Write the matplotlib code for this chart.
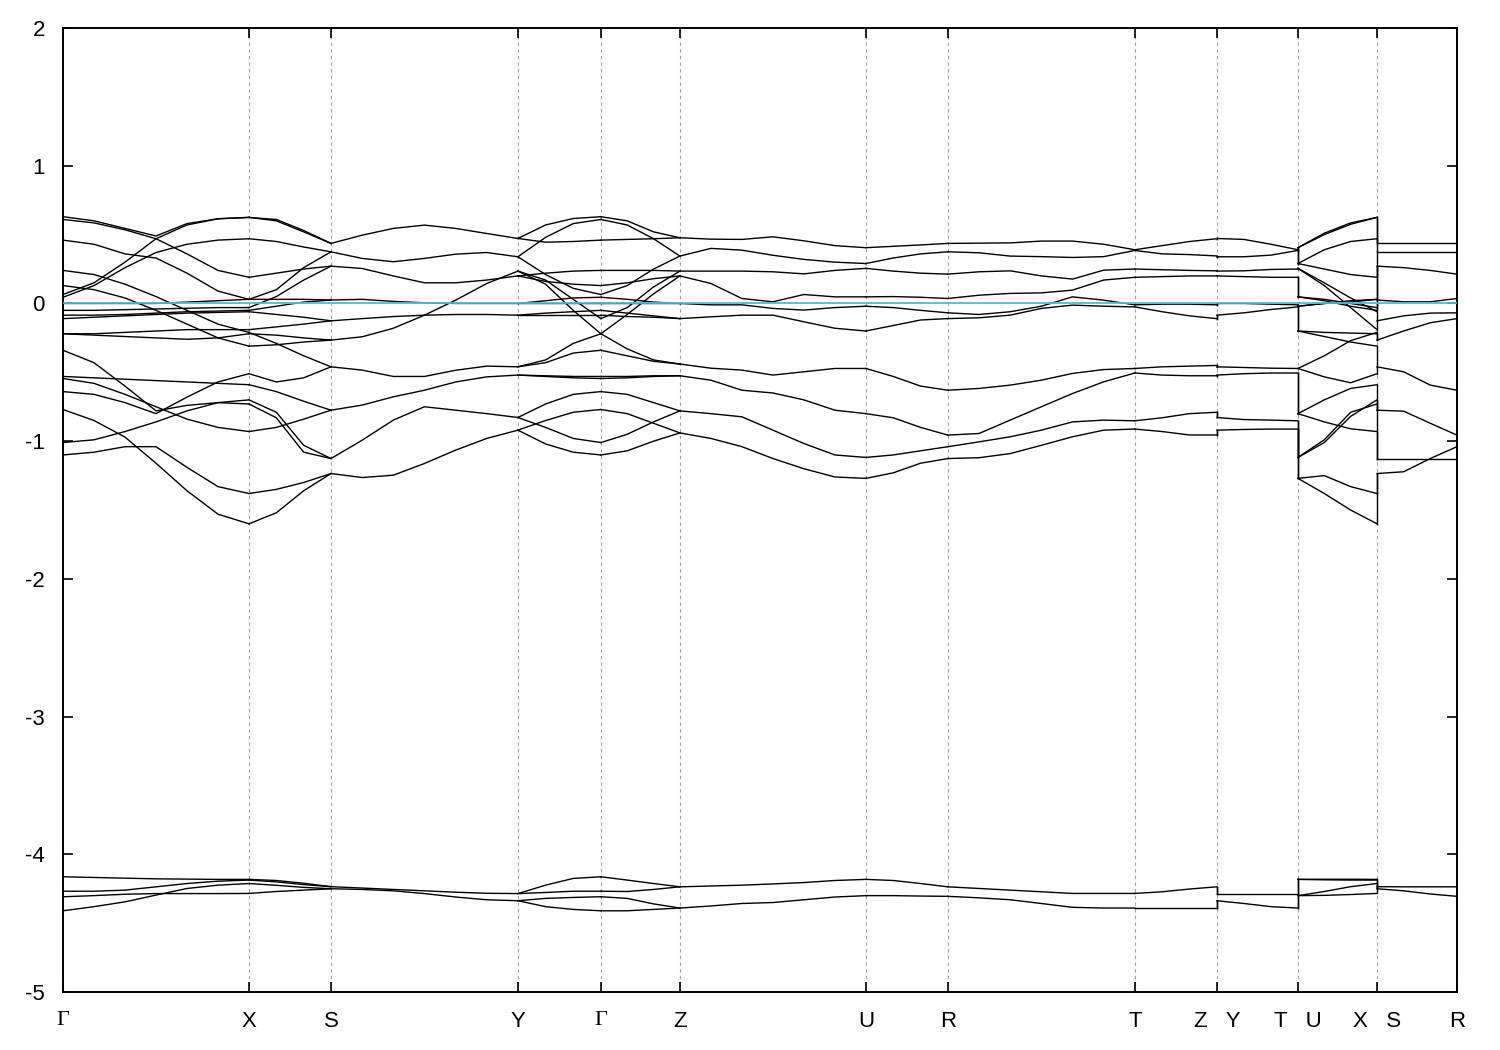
import matplotlib
matplotlib.use("Agg")
import matplotlib.pyplot as plt
import numpy as np

plt.rcParams['font.family'] = ['Liberation Sans', 'DejaVu Sans']
plt.rcParams['axes.unicode_minus'] = False

# high-symmetry points along the k-path (path length, arbitrary units)
labels = ["Γ", "X", "S", "Y", "Γ", "Z", "U", "R", "T", "Z   Y", "T   U", "X   S", "R"]
k_nodes = [0.0, 1.0, 1.441, 2.446, 2.892, 3.317, 4.317, 4.758, 5.763, 6.204, 6.640, 7.065, 7.495]
jumps = [9, 10, 11]  # discontinuities Z|Y, T|U, X|S

# band energies (eV), one row per band, columns evenly spaced in the segment
GX = [
    [0.63, 0.60, 0.545, 0.49, 0.58, 0.615, 0.625],
    [0.61, 0.585, 0.535, 0.47, 0.36, 0.24, 0.19],
    [0.46, 0.43, 0.36, 0.33, 0.22, 0.09, 0.03],
    [0.065, 0.15, 0.30, 0.47, 0.57, 0.615, 0.625],
    [0.045, 0.13, 0.26, 0.37, 0.43, 0.46, 0.47],
    [0.24, 0.21, 0.14, 0.05, -0.05, -0.15, -0.21],
    [0.13, 0.10, 0.04, -0.05, -0.15, -0.25, -0.31],
    [0.0, 0.0, 0.0, 0.0, 0.01, 0.02, 0.03],
    [-0.05, -0.05, -0.045, -0.04, -0.035, -0.03, -0.03],
    [-0.085, -0.085, -0.08, -0.07, -0.06, -0.055, -0.05],
    [-0.11, -0.10, -0.09, -0.08, -0.07, -0.065, -0.06],
    [-0.22, -0.22, -0.21, -0.20, -0.19, -0.19, -0.19],
    [-0.22, -0.23, -0.24, -0.25, -0.26, -0.25, -0.22],
    [-0.34, -0.43, -0.60, -0.78, -0.74, -0.72, -0.73],
    [-0.53, -0.54, -0.55, -0.56, -0.57, -0.58, -0.59],
    [-0.545, -0.58, -0.66, -0.75, -0.84, -0.90, -0.93],
    [-0.64, -0.66, -0.72, -0.80, -0.68, -0.57, -0.51],
    [-1.10, -1.08, -1.04, -1.04, -1.19, -1.33, -1.38],
    [-1.01, -0.99, -0.93, -0.86, -0.78, -0.72, -0.70],
    [-0.77, -0.85, -0.97, -1.16, -1.36, -1.53, -1.60],
    [-4.163, -4.168, -4.173, -4.178, -4.180, -4.182, -4.182],
    [-4.268, -4.268, -4.260, -4.236, -4.212, -4.195, -4.187],
    [-4.308, -4.300, -4.290, -4.285, -4.285, -4.285, -4.284],
    [-4.410, -4.380, -4.345, -4.296, -4.248, -4.224, -4.212],
]
XS = [
    [0.625, 0.60, 0.52, 0.436],
    [0.625, 0.61, 0.53, 0.436],
    [0.47, 0.45, 0.41, 0.375],
    [0.03, 0.10, 0.26, 0.375],
    [0.19, 0.22, 0.25, 0.271],
    [-0.03, 0.05, 0.17, 0.271],
    [0.03, 0.03, 0.03, 0.025],
    [-0.05, -0.02, 0.01, 0.025],
    [-0.06, -0.08, -0.10, -0.126],
    [-0.19, -0.17, -0.15, -0.126],
    [-0.21, -0.29, -0.38, -0.46],
    [-0.22, -0.23, -0.25, -0.266],
    [-0.31, -0.30, -0.28, -0.266],
    [-0.51, -0.57, -0.54, -0.46],
    [-0.59, -0.64, -0.71, -0.775],
    [-0.93, -0.90, -0.84, -0.775],
    [-0.70, -0.79, -1.03, -1.126],
    [-0.73, -0.83, -1.08, -1.126],
    [-1.38, -1.35, -1.30, -1.235],
    [-1.60, -1.52, -1.36, -1.235],
    [-4.182, -4.19, -4.21, -4.235],
    [-4.187, -4.20, -4.22, -4.235],
    [-4.284, -4.27, -4.26, -4.25],
    [-4.212, -4.225, -4.24, -4.25],
]
SY = [  # doubly degenerate
    [0.436, 0.496, 0.545, 0.569, 0.545, 0.508, 0.472],
    [0.375, 0.327, 0.303, 0.327, 0.358, 0.37, 0.339],
    [0.271, 0.254, 0.20, 0.15, 0.15, 0.17, 0.20],
    [0.025, 0.03, 0.015, 0.005, 0.0, 0.0, 0.0],
    [-0.126, -0.11, -0.095, -0.085, -0.08, -0.08, -0.085],
    [-0.266, -0.242, -0.18, -0.085, 0.024, 0.145, 0.235],
    [-0.46, -0.484, -0.53, -0.53, -0.485, -0.455, -0.46],
    [-0.775, -0.738, -0.678, -0.63, -0.57, -0.533, -0.52],
    [-1.126, -0.993, -0.847, -0.75, -0.775, -0.80, -0.828],
    [-1.235, -1.264, -1.247, -1.162, -1.065, -0.98, -0.92],
    [-4.235, -4.245, -4.255, -4.265, -4.275, -4.283, -4.285],
    [-4.25, -4.255, -4.265, -4.285, -4.31, -4.33, -4.337],
]
YG = [
    [0.472, 0.57, 0.617, 0.63],
    [0.472, 0.445, 0.45, 0.46],
    [0.339, 0.48, 0.58, 0.61],
    [0.339, 0.21, 0.11, 0.065],
    [0.20, 0.22, 0.235, 0.24],
    [0.20, 0.16, 0.14, 0.13],
    [0.235, 0.17, 0.03, -0.11],
    [0.235, 0.14, -0.05, -0.22],
    [0.0, 0.02, 0.04, 0.045],
    [0.0, 0.0, 0.0, 0.0],
    [-0.085, -0.07, -0.06, -0.05],
    [-0.085, -0.085, -0.085, -0.085],
    [-0.46, -0.41, -0.29, -0.22],
    [-0.46, -0.43, -0.36, -0.34],
    [-0.52, -0.525, -0.53, -0.53],
    [-0.52, -0.53, -0.54, -0.545],
    [-0.828, -0.73, -0.66, -0.64],
    [-0.828, -0.90, -0.98, -1.01],
    [-0.92, -0.85, -0.79, -0.77],
    [-0.92, -1.02, -1.08, -1.10],
    [-4.285, -4.224, -4.175, -4.163],
    [-4.285, -4.277, -4.268, -4.268],
    [-4.337, -4.32, -4.313, -4.308],
    [-4.337, -4.38, -4.40, -4.41],
]
GZ = [
    [0.63, 0.60, 0.52, 0.477],
    [0.61, 0.57, 0.47, 0.344],
    [0.46, 0.465, 0.47, 0.477],
    [0.065, 0.13, 0.25, 0.344],
    [0.24, 0.24, 0.24, 0.235],
    [0.13, 0.15, 0.18, 0.20],
    [-0.11, -0.03, 0.12, 0.235],
    [-0.22, -0.08, 0.07, 0.20],
    [0.045, 0.03, 0.01, 0.0],
    [0.0, 0.0, 0.0, 0.0],
    [-0.05, -0.07, -0.09, -0.11],
    [-0.085, -0.095, -0.10, -0.11],
    [-0.22, -0.33, -0.41, -0.44],
    [-0.34, -0.38, -0.42, -0.44],
    [-0.53, -0.53, -0.525, -0.525],
    [-0.545, -0.54, -0.53, -0.525],
    [-0.64, -0.66, -0.72, -0.78],
    [-1.01, -0.95, -0.86, -0.78],
    [-0.77, -0.80, -0.87, -0.94],
    [-1.10, -1.07, -1.00, -0.94],
    [-4.163, -4.187, -4.212, -4.236],
    [-4.268, -4.27, -4.255, -4.236],
    [-4.308, -4.32, -4.36, -4.39],
    [-4.41, -4.41, -4.40, -4.39],
]
ZU = [  # doubly degenerate
    [0.477, 0.467, 0.465, 0.484, 0.455, 0.42, 0.405],
    [0.344, 0.40, 0.387, 0.35, 0.32, 0.30, 0.29],
    [0.235, 0.235, 0.235, 0.23, 0.215, 0.24, 0.255],
    [0.20, 0.145, 0.036, 0.012, 0.065, 0.048, 0.048],
    [0.0, -0.01, -0.01, -0.036, -0.048, -0.03, -0.02],
    [-0.11, -0.097, -0.085, -0.085, -0.133, -0.18, -0.20],
    [-0.44, -0.47, -0.484, -0.52, -0.496, -0.472, -0.472],
    [-0.525, -0.557, -0.63, -0.65, -0.70, -0.775, -0.80],
    [-0.78, -0.80, -0.823, -0.92, -1.017, -1.10, -1.118],
    [-0.94, -0.98, -1.04, -1.126, -1.20, -1.26, -1.27],
    [-4.236, -4.23, -4.224, -4.215, -4.205, -4.19, -4.182],
    [-4.39, -4.375, -4.357, -4.35, -4.33, -4.31, -4.30],
]
UR = [  # doubly degenerate
    [0.405, 0.415, 0.425, 0.436],
    [0.29, 0.33, 0.36, 0.375],
    [0.255, 0.235, 0.22, 0.213],
    [0.048, 0.05, 0.045, 0.036],
    [-0.02, -0.03, -0.05, -0.068],
    [-0.20, -0.16, -0.12, -0.11],
    [-0.472, -0.53, -0.60, -0.63],
    [-0.80, -0.83, -0.90, -0.956],
    [-1.118, -1.10, -1.07, -1.04],
    [-1.27, -1.23, -1.16, -1.126],
    [-4.182, -4.19, -4.212, -4.236],
    [-4.30, -4.30, -4.303, -4.305],
]
RT = [  # doubly degenerate
    [0.436, 0.438, 0.44, 0.453, 0.453, 0.43, 0.39],
    [0.375, 0.368, 0.344, 0.34, 0.334, 0.34, 0.385],
    [0.213, 0.23, 0.237, 0.20, 0.177, 0.242, 0.25],
    [0.036, 0.06, 0.073, 0.077, 0.097, 0.17, 0.19],
    [-0.068, -0.08, -0.06, -0.02, 0.048, 0.024, -0.01],
    [-0.11, -0.104, -0.085, -0.036, -0.012, -0.02, -0.025],
    [-0.63, -0.617, -0.593, -0.557, -0.508, -0.48, -0.472],
    [-0.956, -0.944, -0.847, -0.75, -0.654, -0.569, -0.505],
    [-1.04, -1.005, -0.968, -0.92, -0.86, -0.847, -0.852],
    [-1.126, -1.12, -1.09, -1.03, -0.968, -0.92, -0.912],
    [-4.236, -4.248, -4.26, -4.272, -4.284, -4.284, -4.284],
    [-4.305, -4.316, -4.33, -4.357, -4.385, -4.39, -4.39],
]
TZ = [  # doubly degenerate
    [0.39, 0.42, 0.45, 0.47],
    [0.385, 0.36, 0.355, 0.345],
    [0.25, 0.245, 0.24, 0.237],
    [0.19, 0.195, 0.20, 0.20],
    [-0.01, -0.005, -0.005, -0.01],
    [-0.025, -0.06, -0.09, -0.11],
    [-0.472, -0.46, -0.455, -0.45],
    [-0.505, -0.52, -0.525, -0.525],
    [-0.852, -0.83, -0.80, -0.79],
    [-0.912, -0.93, -0.955, -0.955],
    [-4.284, -4.272, -4.252, -4.236],
    [-4.39, -4.39, -4.39, -4.39],
]
YT = [  # doubly degenerate
    [0.472, 0.465, 0.43, 0.39],
    [0.339, 0.339, 0.351, 0.385],
    [0.235, 0.237, 0.247, 0.25],
    [0.20, 0.195, 0.19, 0.19],
    [0.0, 0.0, -0.005, -0.01],
    [-0.085, -0.068, -0.044, -0.025],
    [-0.46, -0.465, -0.47, -0.472],
    [-0.52, -0.51, -0.505, -0.505],
    [-0.828, -0.843, -0.847, -0.852],
    [-0.92, -0.915, -0.912, -0.912],
    [-4.285, -4.285, -4.285, -4.285],
    [-4.337, -4.357, -4.38, -4.39],
]
UX = [
    [0.405, 0.51, 0.585, 0.625],
    [0.405, 0.50, 0.575, 0.625],
    [0.29, 0.39, 0.45, 0.47],
    [0.29, 0.25, 0.21, 0.19],
    [0.255, 0.15, 0.04, -0.06],
    [0.255, 0.13, -0.03, -0.19],
    [0.048, 0.03, 0.0, -0.03],
    [0.048, 0.02, -0.02, -0.05],
    [-0.02, 0.0, 0.02, 0.03],
    [-0.02, 0.0, 0.01, 0.03],
    [-0.472, -0.38, -0.27, -0.21],
    [-0.20, -0.21, -0.215, -0.22],
    [-0.20, -0.24, -0.28, -0.31],
    [-0.472, -0.533, -0.576, -0.51],
    [-0.80, -0.70, -0.617, -0.59],
    [-0.80, -0.86, -0.91, -0.93],
    [-1.118, -1.01, -0.82, -0.70],
    [-1.118, -0.99, -0.79, -0.73],
    [-1.27, -1.25, -1.33, -1.38],
    [-1.27, -1.38, -1.50, -1.60],
    [-4.182, -4.181, -4.181, -4.182],
    [-4.182, -4.185, -4.187, -4.187],
    [-4.30, -4.27, -4.235, -4.212],
    [-4.30, -4.298, -4.292, -4.284],
]
SR = [  # doubly degenerate
    [0.436, 0.436, 0.436, 0.436],
    [0.375, 0.375, 0.375, 0.375],
    [0.271, 0.26, 0.24, 0.213],
    [0.025, 0.012, 0.012, 0.036],
    [-0.126, -0.09, -0.07, -0.068],
    [-0.266, -0.20, -0.14, -0.11],
    [-0.46, -0.496, -0.593, -0.63],
    [-0.775, -0.782, -0.87, -0.956],
    [-1.126, -1.126, -1.126, -1.126],
    [-1.235, -1.222, -1.126, -1.04],
    [-4.235, -4.236, -4.236, -4.236],
    [-4.25, -4.265, -4.288, -4.305],
]

segments = [GX, XS, SY, YG, GZ, ZU, UR, RT, TZ, YT, UX, SR]
degenerate = [False, False, True, False, False, True, True, True, True, True, False, True]

fig = plt.figure(figsize=(15, 10.5), dpi=100)
ax = fig.add_axes([0.042, 0.0552, 0.9293, 0.9181])

for i, rows in enumerate(segments):
    rows = np.array(rows)
    k = np.linspace(k_nodes[i], k_nodes[i + 1], rows.shape[1])
    for band in rows:
        ax.plot(k, band, color='black', lw=1.0, zorder=3)


def node_values(i, col):
    vals = np.array(segments[i])[:, col]
    if degenerate[i]:
        vals = np.repeat(vals, 2)
    return np.sort(vals)


# vertical joins where the path jumps
for j in jumps:
    before = node_values(j - 1, -1)
    after = node_values(j, 0)
    for a, b in zip(before, after):
        ax.plot([k_nodes[j], k_nodes[j]], [a, b], color='black', lw=1.0, zorder=3)

# Fermi level
ax.axhline(0, color='#56B4E9', lw=1.3, zorder=4)

for k in k_nodes[1:-1]:
    ax.axvline(k, color='#a0a0a0', lw=0.8, ls=(0, (3, 3)), zorder=1)

ax.set_xlim(k_nodes[0], k_nodes[-1])
ax.set_ylim(-5, 2)
ax.set_yticks(range(-5, 3))
ax.set_xticks(k_nodes)
ax.set_xticklabels(labels)
for lab in ax.get_xticklabels():
    if lab.get_text() == "Γ":
        lab.set_fontfamily(['Liberation Serif', 'DejaVu Serif'])
        lab.set_fontsize(18)
ax.tick_params(axis='both', direction='in', top=True, right=True,
               length=7, width=1.2, labelsize=16)
ax.tick_params(axis='x', pad=14)
ax.tick_params(axis='y', pad=13)
for sp in ax.spines.values():
    sp.set_linewidth(1.4)

fig.savefig('out.png', dpi=100)
